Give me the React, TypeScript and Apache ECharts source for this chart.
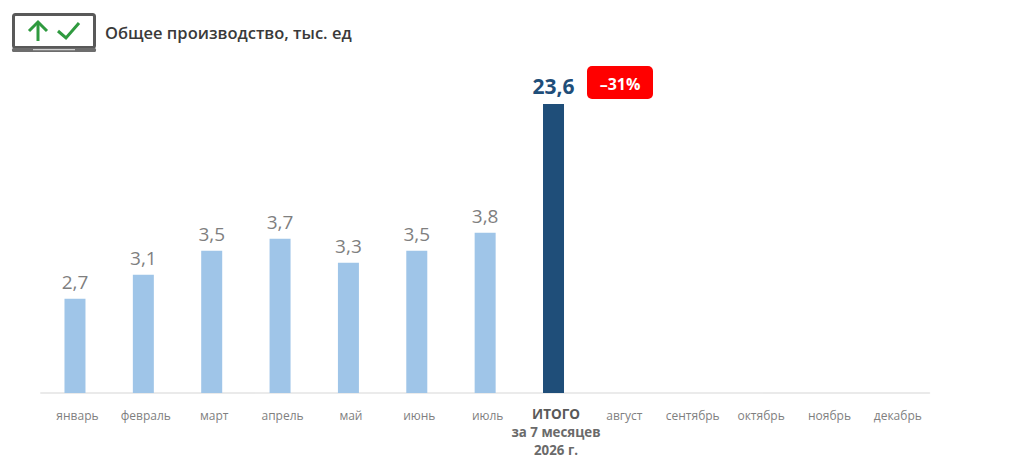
import React, { useEffect, useRef } from "react";
import * as echarts from "echarts";

const categories = ["январь", "февраль", "март", "апрель", "май", "июнь", "июль", "ИТОГО", "август", "сентябрь", "октябрь", "ноябрь", "декабрь"];
const monthly = [2.7, 3.1, 3.5, 3.7, 3.3, 3.5, 3.8, null, null, null, null, null, null];
const total = [null, null, null, null, null, null, null, 23.6, null, null, null, null, null];
const titleText = "Общее производство, тыс. ед";
const badgeText = "–31%";
const FONT = "'Open Sans', 'Noto Sans', sans-serif";
const fmt = (v: number) => String(v).replace(".", ",");

export default function App() {
  const ref = useRef<HTMLDivElement>(null);
  useEffect(() => {
    document.body.style.margin = "0";
    const chart = echarts.init(ref.current!, null, { renderer: "svg" });
    chart.setOption({
      animation: false,
      backgroundColor: "#ffffff",
      title: {
        text: titleText,
        left: 100,
        top: 19,
        textStyle: { fontFamily: FONT, fontSize: 16.5, fontWeight: 600, color: "#3a3a3a" },
      },
      grid: { left: 40.8, right: 94.5, top: 93, bottom: 73, containLabel: false },
      xAxis: {
        type: "category",
        data: categories,
        axisTick: { show: false },
        axisLine: { lineStyle: { color: "#e4e4e4", width: 1.5 } },
        axisLabel: {
          interval: 0,
          margin: 12,
          padding: [0, 0, 0, 5],
          fontFamily: FONT,
          formatter: (v: string) => (v === "ИТОГО" ? "{a|ИТОГО}\n{b|за 7 месяцев}\n{b|2026 г.}" : `{c|${v}}`),
          rich: {
            a: { fontFamily: FONT, fontSize: 13.5, fontWeight: 700, color: "#595959", lineHeight: 18 },
            b: { fontFamily: FONT, fontSize: 13.3, fontWeight: 700, color: "#6a6a6a", lineHeight: 18 },
            c: { fontFamily: FONT, fontSize: 12, color: "#7f7f7f", lineHeight: 20 },
          },
        },
      },
      yAxis: [
        { type: "value", min: 1.13, max: 6.13, show: false, splitLine: { show: false } },
        { type: "value", min: 0, max: 24.5, show: false, splitLine: { show: false } },
      ],
      series: [
        {
          type: "bar",
          yAxisIndex: 0,
          data: monthly,
          barWidth: 21,
          barGap: "-100%",
          itemStyle: { color: "#9fc5e8" },
          label: {
            show: true,
            position: "top",
            distance: 7,
            fontFamily: FONT,
            fontSize: 19,
            color: "#7f7f7f",
            formatter: (p: any) => fmt(p.value),
          },
        },
        {
          type: "bar",
          yAxisIndex: 1,
          data: total,
          barWidth: 21,
          barGap: "-100%",
          itemStyle: { color: "#1f4e79" },
          label: {
            show: true,
            position: "top",
            distance: 8,
            fontFamily: FONT,
            fontSize: 21,
            fontWeight: 700,
            color: "#1f4e79",
            formatter: (p: any) => fmt(p.value),
          },
        },
      ],
      graphic: [
        { type: "rect", shape: { x: 13.5, y: 14.5, width: 81, height: 33, r: 2 }, style: { fill: "#fff", stroke: "#595959", lineWidth: 3 } },
        { type: "rect", shape: { x: 12, y: 48, width: 84, height: 4, r: 1.5 }, style: { fill: "#6d6d6d" } },
        { type: "line", shape: { x1: 33, y1: 49.7, x2: 75, y2: 49.7 }, style: { stroke: "#e8e8e8", lineWidth: 1 } },
        { type: "polyline", shape: { points: [[38, 41], [38, 22]] }, style: { fill: "none", stroke: "#2f9a3f", lineWidth: 3 } },
        { type: "polyline", shape: { points: [[29, 31], [38, 22], [47, 31]] }, style: { fill: "none", stroke: "#2f9a3f", lineWidth: 3 } },
        { type: "polyline", shape: { points: [[58, 31], [66, 38], [79, 23]] }, style: { fill: "none", stroke: "#2f9a3f", lineWidth: 3 } },
        { type: "rect", shape: { x: 587, y: 66, width: 66, height: 33, r: 5 }, style: { fill: "#ff0000" } },
        {
          type: "text",
          x: 620,
          y: 84,
          style: { text: badgeText, fill: "#ffffff", font: `700 16px ${FONT}`, textAlign: "center", textVerticalAlign: "middle" },
        },
      ],
    });
    return () => chart.dispose();
  }, []);
  return <div ref={ref} style={{ width: 1024, height: 466 }} />;
}
